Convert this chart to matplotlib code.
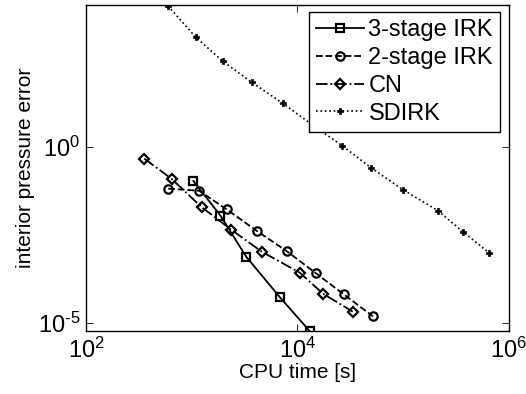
import matplotlib
matplotlib.use("Agg")
import matplotlib.pyplot as plt
import numpy as np

plt.rcParams['font.family'] = ['Liberation Sans', 'DejaVu Sans']
plt.rcParams['mathtext.fontset'] = 'custom'
plt.rcParams['mathtext.rm'] = 'Liberation Sans'
plt.rcParams['mathtext.it'] = 'Liberation Sans:italic'

# CPU time [s] and interior pressure error
irk3_time = [1035, 1870, 3280, 6830, 13030]
irk3_err = [0.106, 0.011, 7.5e-4, 5.3e-5, 5.9e-6]

irk2_time = [600, 1172, 2138, 4110, 7960, 14960, 27540, 51760]
irk2_err = [0.064, 0.056, 0.0166, 0.0041, 0.00107, 2.55e-4, 6.4e-5, 1.53e-5]

cn_time = [356, 646, 1242, 2366, 4613, 10570, 17400, 33260]
cn_err = [0.456, 0.121, 0.0191, 0.00439, 0.00104, 2.63e-4, 6.76e-5, 2.09e-5]

sdirk_time = [596, 1096, 1977, 3718, 7300, 13700, 26360, 49500, 99500, 213000, 367500, 647000]
sdirk_err = [9800, 1250, 260, 65.8, 16.7, 4.22, 1.07, 0.253, 0.060, 0.0152, 0.00385, 9.8e-4]

fig = plt.figure(figsize=(5.26, 3.94), dpi=100)
ax = fig.add_axes([0.1635, 0.160, 0.804, 0.827])

mk = dict(color='black', markerfacecolor='none', markeredgecolor='black',
          markersize=6, markeredgewidth=1.6, linewidth=1.3)
ax.loglog(irk3_time, irk3_err, '-s', label='3-stage IRK', **mk)
ax.loglog(irk2_time, irk2_err, '--o', label='2-stage IRK', **mk)
ax.loglog(cn_time, cn_err, '-.D', label='CN', **dict(mk, markersize=5.5))
ax.loglog(sdirk_time, sdirk_err, ':P', label='SDIRK',
          color='black', markersize=5, markerfacecolor='black', markeredgewidth=0.5, linewidth=1.2)

all_err = irk3_err + irk2_err + cn_err + sdirk_err
ax.set_xlim(1e2, 1e6)
ax.set_ylim(min(all_err), max(all_err) * 1.05)

ax.set_xticks([1e2, 1e4, 1e6])
ax.set_xticklabels([r'$\mathregular{10^{2}}$', r'$\mathregular{10^{4}}$', r'$\mathregular{10^{6}}$'])
ax.set_yticks([1e-5, 1e0])
ax.set_yticklabels([r'$\mathregular{10^{\text{-}5}}$', r'$\mathregular{10^{0}}$'])
ax.minorticks_off()
ax.tick_params(which='both', direction='in', top=True, right=True, length=5,
               width=0.6, labelsize=17)
ax.tick_params(axis='x', pad=5)
ax.tick_params(axis='y', pad=4)
for s in ax.spines.values():
    s.set_linewidth(1.0)

ax.set_xlabel('CPU time [s]', fontsize=15, labelpad=0)
ax.set_ylabel('interior pressure error', fontsize=15, labelpad=2)

leg = ax.legend(loc='upper right', bbox_to_anchor=(0.979, 0.979), borderaxespad=0,
                fontsize=17, fancybox=False, framealpha=1, edgecolor='black',
                handlelength=2.0, handletextpad=0.2, labelspacing=0.25,
                borderpad=0.3)
leg.get_frame().set_linewidth(1.0)

fig.savefig('out.png', dpi=100)
